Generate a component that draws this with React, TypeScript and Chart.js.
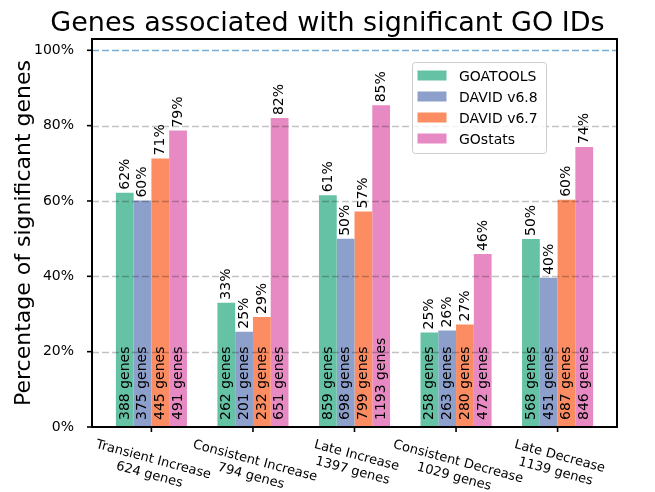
import React, { useEffect, useRef } from "react";
import { Chart, registerables } from "chart.js";

Chart.register(...registerables);

const categories = [
  "Transient Increase",
  "Consistent Increase",
  "Late Increase",
  "Consistent Decrease",
  "Late Decrease",
];
const categoryTotals = [624, 794, 1397, 1029, 1139];
const seriesNames = ["GOATOOLS", "DAVID v6.8", "DAVID v6.7", "GOstats"];
const seriesColors = ["#66c2a5", "#8da0cb", "#fc8d62", "#e78ac3"];

const goatoolsPct = [62.2, 33.0, 61.49, 25.1, 49.9];
const david68Pct = [60.1, 25.3, 49.96, 25.6, 39.6];
const david67Pct = [71.3, 29.2, 57.2, 27.2, 60.3];
const gostatsPct = [78.7, 82.0, 85.4, 45.9, 74.3];

const goatoolsGenes = [388, 262, 859, 258, 568];
const david68Genes = [375, 201, 698, 263, 451];
const david67Genes = [445, 232, 799, 280, 687];
const gostatsGenes = [491, 651, 1193, 472, 846];

const yTicks = [0, 20, 40, 60, 80, 100];

const seriesPct = [goatoolsPct, david68Pct, david67Pct, gostatsPct];
const seriesGenes = [goatoolsGenes, david68Genes, david67Genes, gostatsGenes];

const FONT = "'DejaVu Sans', Verdana, sans-serif";

const overlayPlugin = {
  id: "overlay",
  afterDatasetsDraw(chart: any) {
    const { ctx, chartArea: a, scales } = chart;
    const x = scales.x;
    const y = scales.y;
    ctx.save();

    // grid lines (drawn over the bars, semi-transparent)
    ctx.lineWidth = 1.3;
    ctx.setLineDash([7, 3]);
    for (const v of yTicks) {
      if (v === 0) continue;
      const py = Math.round(y.getPixelForValue(v)) + 0.5;
      ctx.strokeStyle = v === 100 ? "rgba(31,119,180,0.6)" : "rgba(0,0,0,0.24)";
      ctx.beginPath();
      ctx.moveTo(a.left, py);
      ctx.lineTo(a.right, py);
      ctx.stroke();
    }
    ctx.setLineDash([]);

    // bar labels
    ctx.fillStyle = "#000";
    ctx.font = `14px ${FONT}`;
    ctx.textAlign = "left";
    ctx.textBaseline = "alphabetic";
    chart.data.datasets.forEach((ds: any, i: number) => {
      const meta = chart.getDatasetMeta(i);
      meta.data.forEach((el: any, j: number) => {
        const p = el.getProps(["x", "y", "base"], true);
        const pct = Math.round(seriesPct[i][j]) + "%";
        const genes = seriesGenes[i][j] + " genes";
        ctx.save();
        ctx.translate(p.x, p.y - 3);
        ctx.rotate(-Math.PI / 2);
        ctx.fillText(pct, 0, 3.8);
        ctx.restore();
        ctx.save();
        ctx.translate(p.x, p.base - 7);
        ctx.rotate(-Math.PI / 2);
        ctx.fillText(genes, 0, 3.8);
        ctx.restore();
      });
    });

    // frame
    ctx.strokeStyle = "#000";
    ctx.lineWidth = 2;
    ctx.strokeRect(a.left, a.top, a.right - a.left, a.bottom - a.top);

    // tick marks
    ctx.lineWidth = 1.6;
    for (const v of yTicks) {
      const py = y.getPixelForValue(v);
      ctx.beginPath();
      ctx.moveTo(a.left - 5, py);
      ctx.lineTo(a.left, py);
      ctx.stroke();
    }
    categories.forEach((_, j) => {
      const px = x.getPixelForValue(j);
      ctx.beginPath();
      ctx.moveTo(px, a.bottom);
      ctx.lineTo(px, a.bottom + 5);
      ctx.stroke();
    });

    // x tick labels (rotated 15deg clockwise, centered)
    const ang = (15 * Math.PI) / 180;
    const fs = 13;
    ctx.font = `${fs}px ${FONT}`;
    ctx.textAlign = "center";
    ctx.textBaseline = "middle";
    categories.forEach((cat, j) => {
      const lines = [cat, categoryTotals[j] + " genes"];
      const W = Math.max(...lines.map((l) => ctx.measureText(l).width));
      const lh = fs * 1.2;
      const H = lh * lines.length;
      const bboxH = W * Math.sin(ang) + H * Math.cos(ang);
      const px = x.getPixelForValue(j);
      const cy = a.bottom + 10 + bboxH / 2;
      ctx.save();
      ctx.translate(px, cy);
      ctx.rotate(ang);
      lines.forEach((l, k) => {
        ctx.fillText(l, 0, -H / 2 + lh / 2 + k * lh);
      });
      ctx.restore();
    });

    // title
    ctx.font = `27px ${FONT}`;
    ctx.textAlign = "center";
    ctx.textBaseline = "alphabetic";
    ctx.fillText("Genes associated with significant GO IDs", chart.width / 2, 31);

    // y axis label
    ctx.save();
    ctx.font = `22px ${FONT}`;
    ctx.translate(30, (a.top + a.bottom) / 2);
    ctx.rotate(-Math.PI / 2);
    ctx.fillText("Percentage of significant genes", 0, 0);
    ctx.restore();

    // legend
    const lx = 412.5, ly = 62.5, lw = 134, lhgt = 91;
    ctx.beginPath();
    if ((ctx as any).roundRect) {
      (ctx as any).roundRect(lx, ly, lw, lhgt, 3);
    } else {
      ctx.rect(lx, ly, lw, lhgt);
    }
    ctx.fillStyle = "rgba(255,255,255,0.8)";
    ctx.fill();
    ctx.strokeStyle = "#cccccc";
    ctx.lineWidth = 1;
    ctx.stroke();
    ctx.font = `14px ${FONT}`;
    ctx.textAlign = "left";
    ctx.textBaseline = "alphabetic";
    seriesNames.forEach((name, i) => {
      const cy = 75.5 + i * 21;
      ctx.fillStyle = seriesColors[i];
      ctx.fillRect(417.5, cy - 5, 29, 10);
      ctx.fillStyle = "#000";
      ctx.fillText(name, 459, cy + 5.1);
    });

    ctx.restore();
  },
};

export default function App() {
  const ref = useRef<HTMLCanvasElement | null>(null);

  useEffect(() => {
    if (!ref.current) return;
    const chart = new Chart(ref.current, {
      type: "bar",
      data: {
        datasets: seriesNames.map((name, i) => ({
          label: name,
          data: seriesPct[i].map((v, j) => ({ x: j, y: v })),
          backgroundColor: seriesColors[i],
          borderWidth: 0,
          categoryPercentage: 0.7,
          barPercentage: 1.0,
        })),
      },
      options: {
        animation: false,
        responsive: false,
        devicePixelRatio: window.devicePixelRatio || 1,
        layout: { padding: { top: 39, right: 38, bottom: 65, left: 0 } },
        plugins: {
          legend: { display: false },
          title: { display: false },
          tooltip: { enabled: false },
        },
        scales: {
          x: {
            type: "linear",
            display: false,
            offset: false,
            min: -0.585,
            max: 4.585,
            afterBuildTicks: (axis: any) => {
              axis.ticks = categories.map((_, j) => ({ value: j }));
            },
          },
          y: {
            type: "linear",
            min: 0,
            max: 103,
            afterBuildTicks: (axis: any) => {
              axis.ticks = yTicks.map((v) => ({ value: v }));
            },
            afterFit: (axis: any) => {
              axis.width = 92;
            },
            grid: { display: false },
            border: { display: false },
            ticks: {
              color: "#000",
              padding: 10,
              font: { family: FONT, size: 14 },
              callback: (v: any) => v + "%",
            },
          },
        },
      } as any,
      plugins: [overlayPlugin],
    });
    return () => chart.destroy();
  }, []);

  return (
    <div style={{ position: "absolute", left: 0, top: 0, width: 655, height: 492, background: "#fff" }}>
      <canvas ref={ref} width={655} height={492} style={{ width: 655, height: 492, display: "block" }} />
    </div>
  );
}
